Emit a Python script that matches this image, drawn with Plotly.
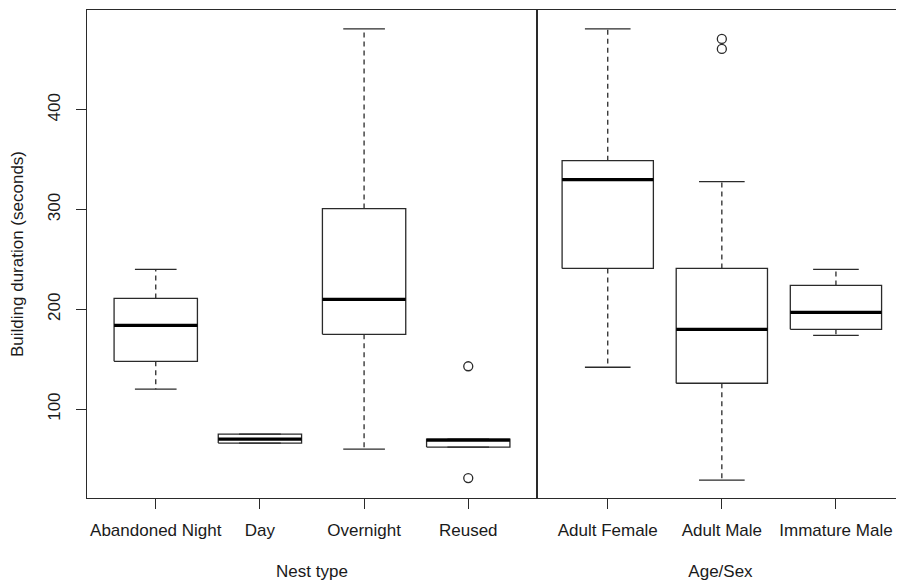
import plotly.graph_objects as go

# ---- data ----
nest_types = ["Abandoned Night", "Day", "Overnight", "Reused"]
nest_lower = [120, 66, 60, 62]
nest_q1 = [148, 66, 175, 62]
nest_median = [184, 70, 210, 69]
nest_q3 = [211, 75, 301, 70]
nest_upper = [240, 75, 481, 70]
nest_outliers = [[], [], [], [143, 31]]

age_sex = ["Adult Female", "Adult Male", "Immature Male"]
age_lower = [142, 29, 174]
age_q1 = [241, 126, 180]
age_median = [330, 180, 197]
age_q3 = [349, 241, 224]
age_upper = [481, 328, 240]
age_outliers = [[], [471, 461], []]

y_ticks = [100, 200, 300, 400]

LINE = "#2a2a2a"
TEXT = "#1a1a1a"
FONT = "Liberation Sans, Arial, sans-serif"
HALF_BOX = 0.4
HALF_CAP = 0.2


def box_traces(cats, lo, q1, med, q3, hi, outs, xa, ya):
    bx, by, mx, my, wx, wy, cx, cy, ox, oy = [], [], [], [], [], [], [], [], [], []
    for i in range(len(cats)):
        c = i + 1
        bx += [c - HALF_BOX, c + HALF_BOX, c + HALF_BOX, c - HALF_BOX, c - HALF_BOX, None]
        by += [q1[i], q1[i], q3[i], q3[i], q1[i], None]
        mx += [c - HALF_BOX, c + HALF_BOX, None]
        my += [med[i], med[i], None]
        wx += [c, c, None, c, c, None]
        wy += [q3[i], hi[i], None, q1[i], lo[i], None]
        cx += [c - HALF_CAP, c + HALF_CAP, None, c - HALF_CAP, c + HALF_CAP, None]
        cy += [hi[i], hi[i], None, lo[i], lo[i], None]
        for v in outs[i]:
            ox.append(c)
            oy.append(v)
    common = dict(xaxis=xa, yaxis=ya, showlegend=False, hoverinfo="skip")
    return [
        go.Scatter(x=wx, y=wy, mode="lines", line=dict(color=LINE, width=1.3, dash="5px,4px"), **common),
        go.Scatter(x=cx, y=cy, mode="lines", line=dict(color=LINE, width=1.3), **common),
        go.Scatter(x=bx, y=by, mode="lines", line=dict(color=LINE, width=1.3), **common),
        go.Scatter(x=mx, y=my, mode="lines", line=dict(color="#000000", width=3.2), **common),
        go.Scatter(x=ox, y=oy, mode="markers",
                   marker=dict(symbol="circle-open", size=9, color=LINE, line=dict(width=1.3)), **common),
    ]


fig = go.Figure()
for t in box_traces(nest_types, nest_lower, nest_q1, nest_median, nest_q3, nest_upper, nest_outliers, "x", "y"):
    fig.add_trace(t)
for t in box_traces(age_sex, age_lower, age_q1, age_median, age_q3, age_upper, age_outliers, "x2", "y2"):
    fig.add_trace(t)

# page body has an 8px margin, so the figure is sized to fill the rest of the window
W, H = 896, 573
ML, MT, MB, MR = 79, 2, 83, 0
plot_w = W - ML - MR
split = 450 / plot_w

axis_font = dict(family=FONT, size=17, color=TEXT)
xcommon = dict(showgrid=False, zeroline=False, showline=True, mirror=True,
               linecolor=LINE, linewidth=1.3, ticks="outside", ticklen=10,
               tickcolor=LINE, tickwidth=1.3, tickfont=axis_font,
               ticklabelstandoff=6, automargin=False)

fig.update_layout(
    width=W, height=H,
    margin=dict(l=ML, r=MR, t=MT, b=MB),
    paper_bgcolor="white", plot_bgcolor="white",
    font=dict(family=FONT, size=17, color=TEXT),
    xaxis=dict(domain=[0, split], range=[0.34, 4.66],
               tickvals=[1, 2, 3, 4], ticktext=nest_types,
               title=dict(text="Nest type", font=axis_font, standoff=26),
               anchor="y", **xcommon),
    xaxis2=dict(domain=[split, 1], range=[0.38, 0.38 + (plot_w - 450) / 114.1],
                tickvals=[1, 2, 3], ticktext=age_sex,
                title=dict(text="Age/Sex", font=axis_font, standoff=26),
                anchor="y2", **xcommon),
    yaxis=dict(range=[11, 500], tickvals=y_ticks, showgrid=False, zeroline=False,
               showline=True, mirror=True, linecolor=LINE, linewidth=1.3,
               ticks="outside", ticklen=10, tickcolor=LINE, tickwidth=1.3,
               tickangle=-90, tickfont=axis_font, anchor="x",
               ticklabelstandoff=9, automargin=False,
               title=dict(text="Building duration (seconds)", font=axis_font, standoff=17)),
    yaxis2=dict(range=[11, 500], matches="y", showticklabels=False, ticks="",
                showgrid=False, zeroline=False, showline=True, mirror=False,
                linecolor=LINE, linewidth=1.3, anchor="x2", automargin=False),
)

fig.write_html("out.html")
